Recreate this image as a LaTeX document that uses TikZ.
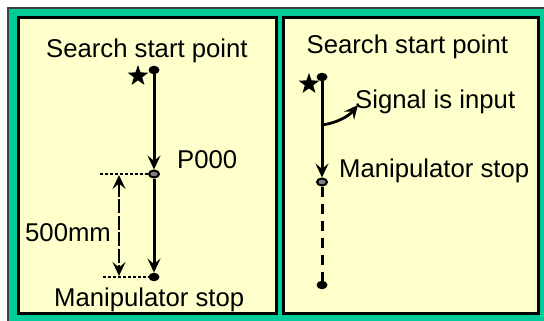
\documentclass[tikz,border=0pt]{standalone}
\usepackage{fontspec}
\setmainfont{Liberation Sans}
\usetikzlibrary{arrows.meta,shapes.geometric}
\definecolor{frgreen}{RGB}{0,204,153}
\definecolor{panelyel}{RGB}{255,255,204}
\begin{document}
\begin{tikzpicture}[x=1pt,y=-1pt,
  lbl/.style={inner sep=0pt, font=\fontsize{25.7}{30}\selectfont, anchor=base west},
  blackdot/.style={ellipse, fill=black, inner sep=0pt, minimum width=11pt, minimum height=8.5pt},
  greydot/.style={ellipse, draw=black, line width=2pt, fill=gray, inner sep=0pt, minimum width=10pt, minimum height=7pt},
  starmark/.style={star, star points=5, star point ratio=2.5, fill=black, inner sep=0pt, minimum size=22pt},
  trackline/.style={line width=3pt, -{Stealth[length=14pt,width=13pt,inset=5.5pt]}},
  dotline/.style={line width=2.5pt, dash pattern=on 2.5pt off 2.5pt},
  dimline/.style={line width=2.8pt, dash pattern=on 14pt off 2.5pt, {Stealth[length=14pt,width=13pt,inset=5.5pt]}-{Stealth[length=14pt,width=13pt,inset=5.5pt]}},
  panel/.style={draw=black, line width=3pt, fill=panelyel}]
\clip (0,0) rectangle (544,321);
\fill[white] (0,0) rectangle (544,321);
\filldraw[fill=frgreen, draw=darkgray, line width=2.5pt] (8,8) rectangle (552,332);
\filldraw[panel] (18,18) rectangle (276,313);
\filldraw[panel] (283,18) rectangle (538,313);
% left panel
\node[lbl] (t1) at (46,58) {Search start point};
\node[lbl] (t2) at (177,168) {P000};
\node[lbl] (t3) at (25,241) {500mm};
\node[lbl] (t4) at (54,306) {Manipulator stop};
\node[blackdot] (a1) at (154,70) {};
\node[starmark] (s1) at (138,76) {};
\node[greydot] (a2) at (154,174) {};
\node[blackdot] (a3) at (154,277) {};
\draw[trackline] (a1) -- (a2);
\draw[trackline] (a2) -- (a3);
\coordinate (d1) at (100,174);
\coordinate (d2) at (103,277);
\draw[dotline] (d1) -- (a2);
\draw[dotline] (d2) -- (a3);
\coordinate (m1) at (119,175);
\coordinate (m2) at (119,276);
\draw[dimline] (m1) -- (m2);
% right panel
\node[lbl] (t5) at (306.5,54) {Search start point};
\node[lbl] (t6) at (355,108) {Signal is input};
\node[lbl] (t7) at (339,177) {Manipulator stop};
\node[blackdot] (b1) at (322,77) {};
\node[starmark] (s2) at (309,84) {};
\node[greydot] (b2) at (322,182) {};
\node[blackdot] (b3) at (322,285) {};
\draw[trackline] (b1) -- (b2);
\draw[line width=3pt, dash pattern=on 10pt off 7pt] (b2) -- (b3);
\coordinate (c1) at (322,125);
\coordinate (c2) at (358,105);
\draw[line width=2.8pt, -{Stealth[length=14pt,width=13pt,inset=5.5pt]}] (c1) .. controls (336,123) and (348,117) .. (c2);
\end{tikzpicture}
\end{document}
